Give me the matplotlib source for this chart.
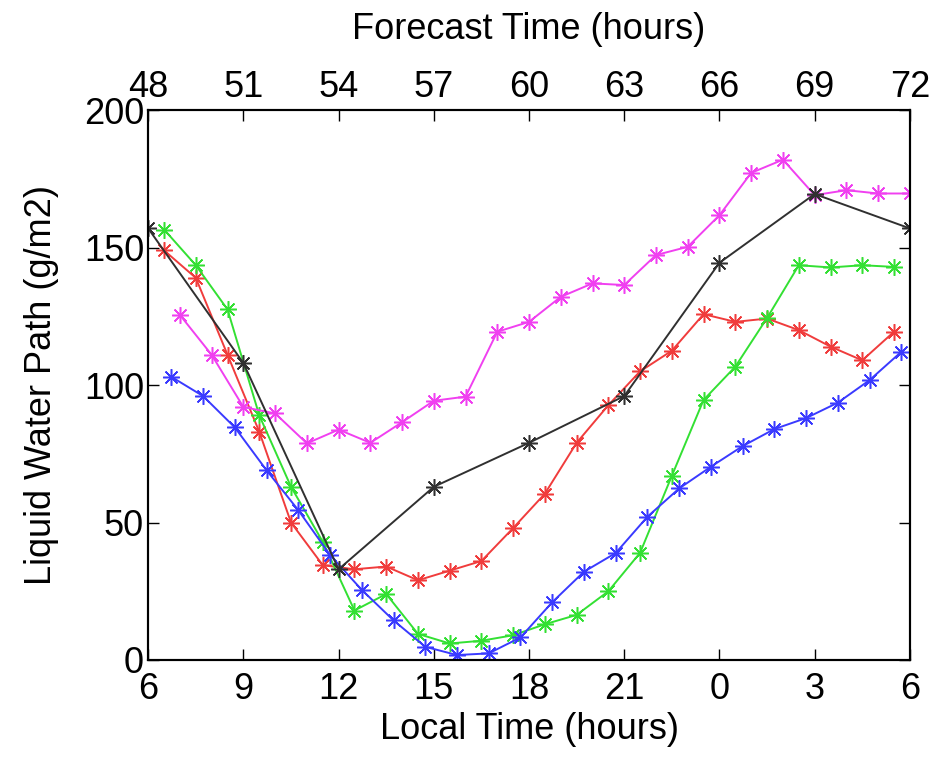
import matplotlib
matplotlib.use('Agg')
import matplotlib.pyplot as plt
import numpy as np

plt.rcParams['font.family'] = ['Liberation Sans', 'DejaVu Sans']

# 本地时间（小时，6 -> 30 即次日 6 点）
black_x = [6, 9, 12, 15, 18, 21, 24, 27, 30]
black_y = [157, 108, 33, 63, 79, 96, 144.5, 169.5, 157]

red_x = [6.5 + i for i in range(24)]
red_y = [149, 139, 111, 83, 50, 34.5, 33, 34, 29, 32.5, 36, 48,
         60.5, 79, 92.7, 105, 112.5, 125.8, 123, 124.2, 120, 114, 109, 119.4]

green_x = [6.5 + i for i in range(24)]
green_y = [156.6, 143.6, 127.5, 89, 63, 43, 18, 24, 9.5, 6, 7, 9,
           13, 16.4, 25, 39, 67, 94.6, 106.7, 124.4, 143.6, 142.8, 143.6, 143]

blue_x = [6.73 + i for i in range(24)]
blue_y = [103, 96, 84.6, 69, 54.5, 38.2, 25.5, 14.4, 4.8, 1.8, 2.4, 8.2,
          21, 32.1, 38.9, 52.1, 62.4, 70.3, 77.8, 84, 88, 93.6, 101.8, 112.1]

magenta_x = [7 + i for i in range(24)]
magenta_y = [125.5, 111, 92, 89.7, 78.8, 83.8, 79, 86.5, 94.3, 95.8, 119.4, 123,
             132.1, 137, 136.4, 147.3, 150.3, 161.8, 177.2, 182, 169.1, 170.9, 169.7, 169.7]

local_ticks = [6, 9, 12, 15, 18, 21, 24, 27, 30]
local_labels = ['6', '9', '12', '15', '18', '21', '0', '3', '6']
forecast_ticks = [48, 51, 54, 57, 60, 63, 66, 69, 72]

fig = plt.figure(figsize=(9.38, 7.60), dpi=100)
ax = fig.add_axes([0.158, 0.1316, 0.812, 0.7234])

# MATLAB 风格的星号标记
mk = dict(marker=(8, 2, 0), markersize=12, linewidth=1.4, markeredgewidth=1.1)
ax.plot(red_x, red_y, color='#f03c3c', **mk)
ax.plot(green_x, green_y, color='#33e033', **mk)
ax.plot(blue_x, blue_y, color='#3a3aff', **mk)
ax.plot(magenta_x, magenta_y, color='#f040f0', **mk)
ax.plot(black_x, black_y, color='#303030', **mk)

ax.set_xlim(6, 30)
ax.set_ylim(0, 200)
ax.set_xticks(local_ticks)
ax.set_xticklabels(local_labels)
ax.set_yticks([0, 50, 100, 150, 200])
ax.tick_params(direction='in', length=8, width=1, labelsize=26, pad=3,
               right=True)
ax.tick_params(axis='x', pad=9)
ax.set_xlabel('Local Time (hours)', fontsize=26, labelpad=3)
ax.set_ylabel('Liquid Water Path (g/m2)', fontsize=26, labelpad=18)

ax2 = ax.twiny()
ax2.set_xlim(48, 72)
ax2.set_xticks(forecast_ticks)
ax2.tick_params(direction='in', length=8, width=1, labelsize=26, pad=4)
ax2.set_xlabel('Forecast Time (hours)', fontsize=26, labelpad=22)

for a in (ax, ax2):
    for s in a.spines.values():
        s.set_linewidth(1.5)

plt.savefig('out.png', dpi=100)
